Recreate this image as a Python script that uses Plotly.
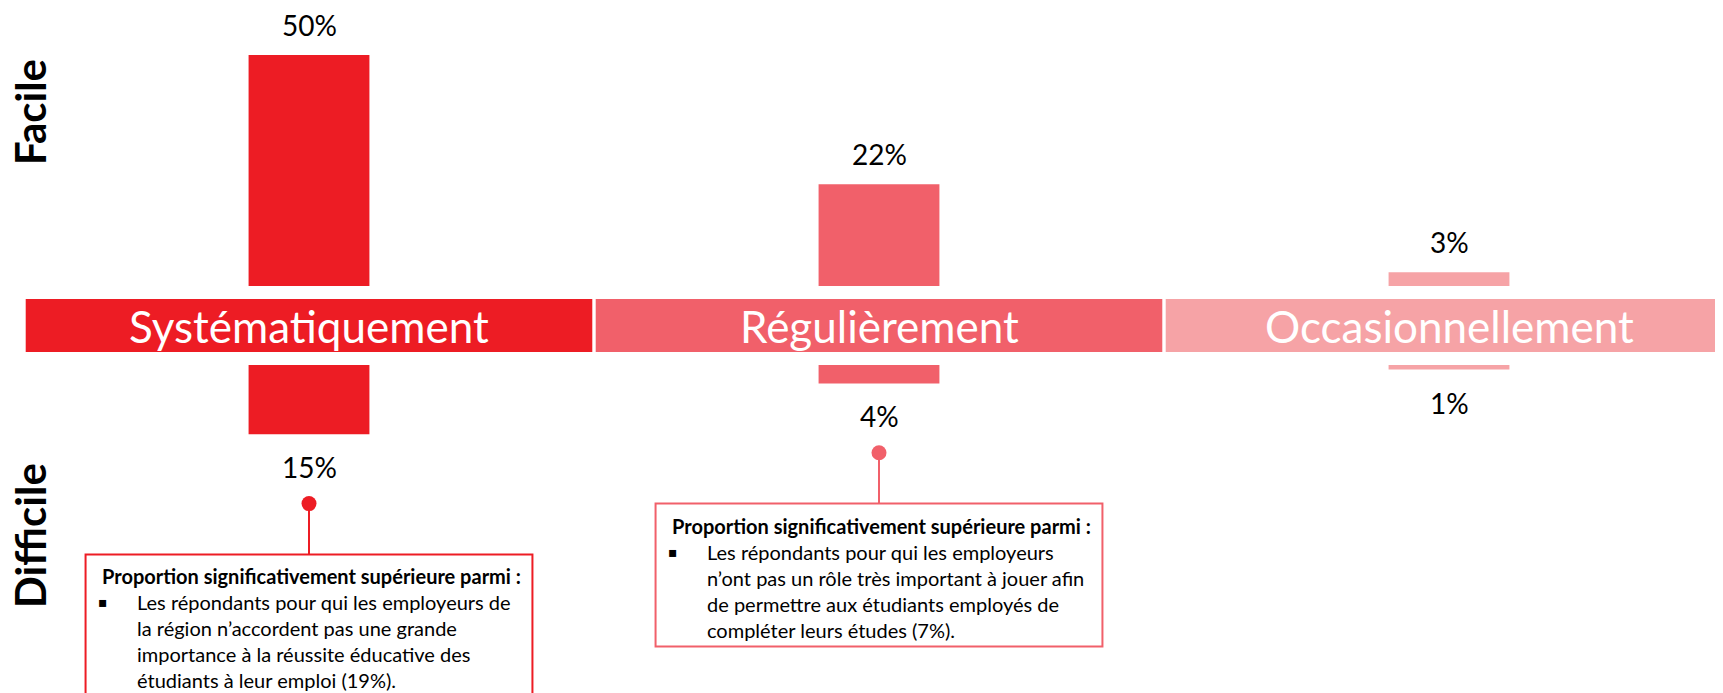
import plotly.graph_objects as go

categories = ["Systématiquement", "Régulièrement", "Occasionnellement"]
facile = [50, 22, 3]
difficile = [15, 4, 1]
colors = ["#ED1C24", "#F1606A", "#F6A3A6"]

callout_title = "Proportion significativement supérieure parmi :"
callout_cats = [0, 1]
callout_lines = [
    ["Les répondants pour qui les employeurs de",
     "la région n’accordent pas une grande",
     "importance à la réussite éducative des",
     "étudiants à leur emploi (19%)."],
    ["Les répondants pour qui les employeurs",
     "n’ont pas un rôle très important à jouer afin",
     "de permettre aux étudiants employés de",
     "compléter leurs études (7%)."],
]

W, H = 1723, 693
OFF = 8            # page body margin
PX = 4.62          # pixels per percentage point
GAP = 13 / PX      # gap between bars and category band
BAND = 53 / PX     # band height
LOW0 = -(2 * GAP + BAND)
X0, XU = 309 - OFF, 570   # pixel of first category, pixels per category
Y0 = 286 - OFF            # pixel of the baseline
FONT = "Lato, Carlito, Calibri, sans-serif"
x = list(range(len(categories)))

fig = go.Figure()
fig.add_trace(go.Bar(x=x, y=facile, base=0, width=0.212,
                     marker=dict(color=colors, line=dict(width=0)), hoverinfo="skip"))
fig.add_trace(go.Bar(x=x, y=[BAND] * 3, base=-GAP - BAND, width=0.994,
                     marker=dict(color=colors, line=dict(width=0)), hoverinfo="skip"))
fig.add_trace(go.Bar(x=x, y=difficile, base=[LOW0 - v for v in difficile], width=0.212,
                     marker=dict(color=colors, line=dict(width=0)), hoverinfo="skip"))

for i, cat in enumerate(categories):
    fig.add_annotation(x=i, y=facile[i], text=f"{facile[i]}%", showarrow=False,
                       yanchor="middle", yshift=30, font=dict(family=FONT, size=28, color="#000"))
    fig.add_annotation(x=i, y=LOW0 - difficile[i], text=f"{difficile[i]}%", showarrow=False,
                       yanchor="middle", yshift=-33, font=dict(family=FONT, size=28, color="#000"))
    fig.add_annotation(x=i, y=-GAP - BAND / 2, text=cat, showarrow=False, yanchor="middle",
                       font=dict(family=FONT, size=44, color="white"))

for label, ypx in [("Facile", 112), ("Difficile", 536)]:
    fig.add_annotation(xref="paper", yref="paper", x=(30 - OFF) / W, y=1 - (ypx - OFF) / H,
                       xanchor="center", yanchor="middle", text=f"<b>{label}</b>",
                       textangle=-90, showarrow=False, font=dict(family=FONT, size=42, color="#000"))

# callouts under the "difficile" bars
HALF = 0.392
for k, ci in enumerate(callout_cats):
    col = colors[ci]
    bottom = LOW0 - difficile[ci]
    dot_y = bottom - 15
    box_top = dot_y - 11
    box_bot = box_top - 143 / PX
    fig.add_shape(type="line", x0=ci, x1=ci, y0=dot_y, y1=box_top,
                  line=dict(color=col, width=2))
    fig.add_shape(type="rect", x0=ci - HALF, x1=ci + HALF, y0=box_bot, y1=box_top,
                  line=dict(color=col, width=2), fillcolor="white")
    fig.add_trace(go.Scatter(x=[ci], y=[dot_y], mode="markers", hoverinfo="skip",
                             marker=dict(size=15, color=col)))
    left = ci - HALF
    fig.add_annotation(x=left, y=box_top, xanchor="left", yanchor="middle", xshift=14, yshift=-22,
                       text=f"<b>{callout_title}</b>", showarrow=False,
                       font=dict(family=FONT, size=20, color="#000"))
    fig.add_annotation(x=left, y=box_top, xanchor="left", yanchor="middle", xshift=10, yshift=-48,
                       text="▪", showarrow=False, font=dict(family="DejaVu Sans", size=14, color="#000"))
    for j, line in enumerate(callout_lines[k]):
        fig.add_annotation(x=left, y=box_top, xanchor="left", yanchor="middle", xshift=49,
                           yshift=-48 - 26 * j, text=line, showarrow=False,
                           font=dict(family=FONT, size=20, color="#000"))

fig.update_layout(
    width=W, height=H, margin=dict(l=0, r=0, t=0, b=0),
    paper_bgcolor="white", plot_bgcolor="white", showlegend=False,
    barmode="overlay",
    xaxis=dict(range=[-X0 / XU, (W - X0) / XU], visible=False),
    yaxis=dict(range=[-(H - Y0) / PX, Y0 / PX], visible=False),
)
fig.write_html("out.html")
